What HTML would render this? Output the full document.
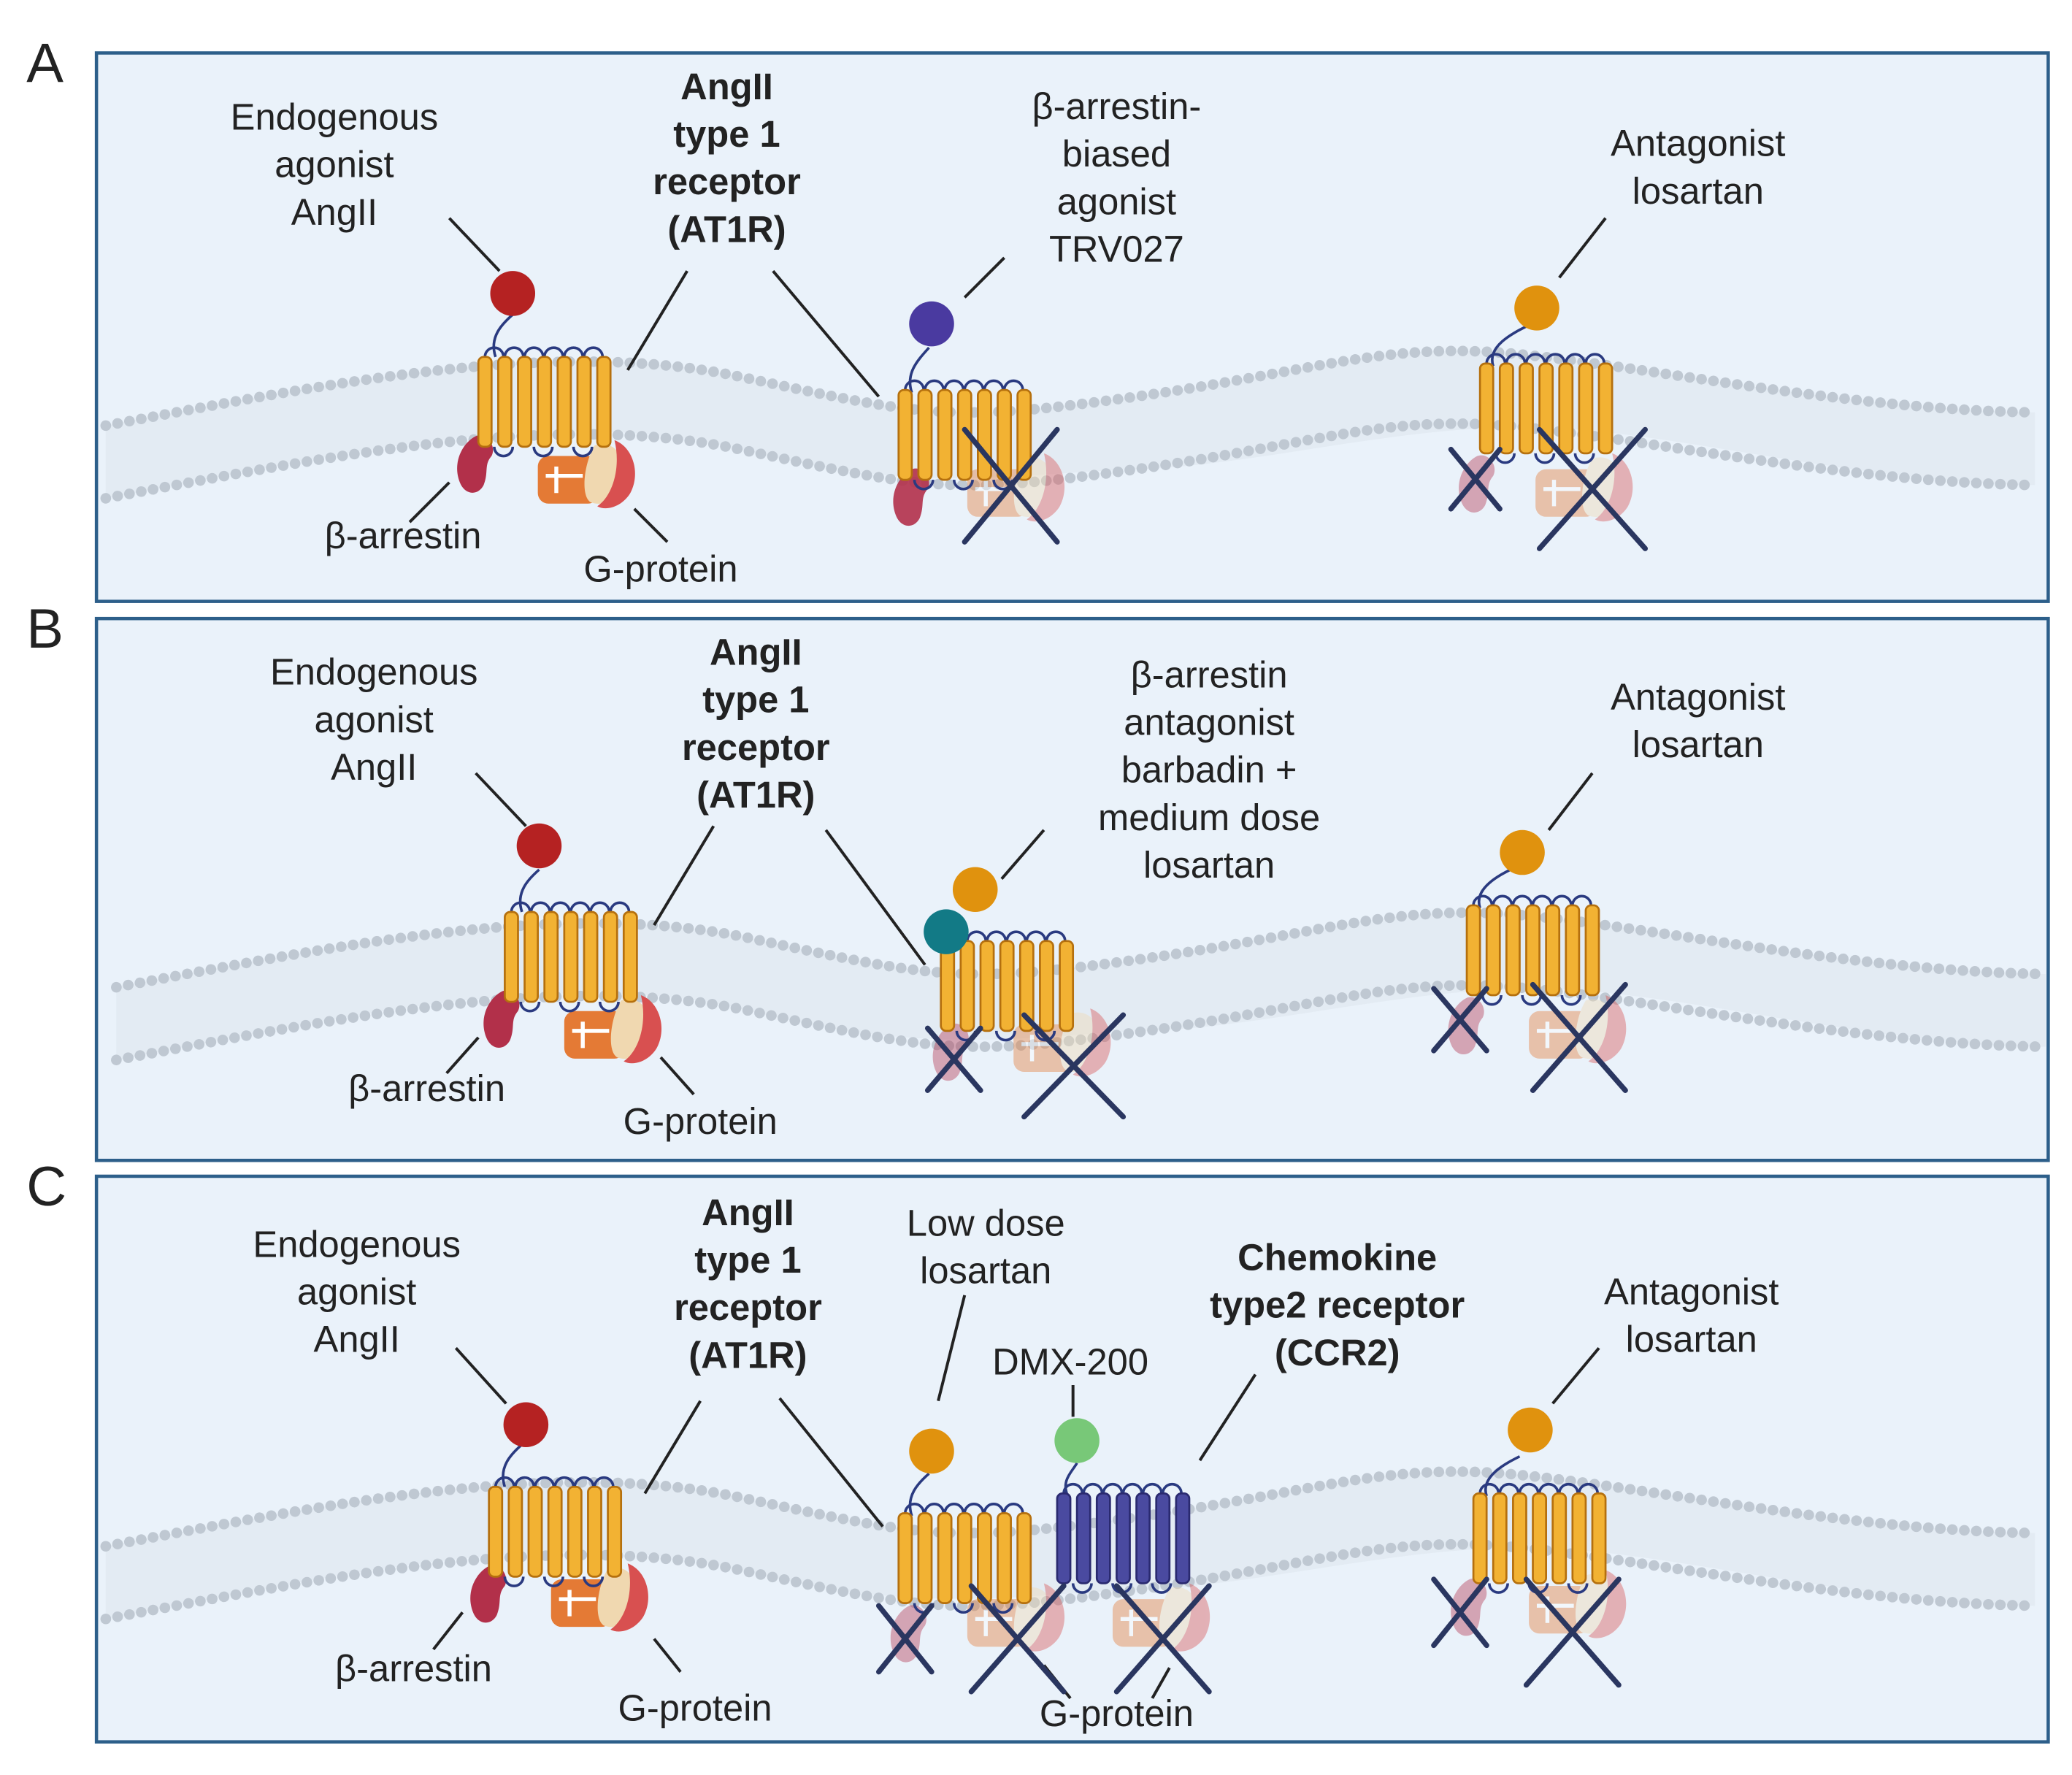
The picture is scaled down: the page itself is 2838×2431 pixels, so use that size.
<!DOCTYPE html>
<html><head><meta charset="utf-8">
<style>
html,body{margin:0;padding:0;background:#fff;}
svg{display:block;}
text{font-family:"Liberation Sans",sans-serif;font-size:28px;fill:#222;text-anchor:middle;}
.b{font-weight:bold;}
.big{font-size:42px;text-anchor:start;}
</style></head><body>
<svg width="2838" height="2431" viewBox="0 0 1568 1343" xmlns="http://www.w3.org/2000/svg">
<defs>
<g id="helices">
  <path d="M5,0 a7,7 0 0 1 14,0 M20,0 a7,7 0 0 1 14,0 M35,0 a7,7 0 0 1 14,0 M50,0 a7,7 0 0 1 14,0 M65,0 a7,7 0 0 1 14,0 M80,0 a7,7 0 0 1 14,0" fill="none" stroke="#2a3a80" stroke-width="2"/>
  <path d="M12,68 a7,7 0 0 0 14,0 M42,68 a7,7 0 0 0 14,0 M72,68 a7,7 0 0 0 14,0" fill="none" stroke="#2a3a80" stroke-width="2"/>
  <g stroke-width="1.5">
    <rect x="0" y="0" width="10" height="68" rx="4"/>
    <rect x="15" y="0" width="10" height="68" rx="4"/>
    <rect x="30" y="0" width="10" height="68" rx="4"/>
    <rect x="45" y="0" width="10" height="68" rx="4"/>
    <rect x="60" y="0" width="10" height="68" rx="4"/>
    <rect x="75" y="0" width="10" height="68" rx="4"/>
    <rect x="90" y="0" width="10" height="68" rx="4"/>
  </g>
</g>
<g id="rec"><g fill="#f2b233" stroke="#b5700e"><use href="#helices"/></g></g>
<g id="recb"><g fill="#4a4aa0" stroke="#2a2a70"><use href="#helices"/></g></g>
<g id="arr"><path d="M0,0 c-10,5 -18,20 -12,35 c4,10 14,10 18,2 c4,-10 0,-15 6,-22 c4,-8 -4,-18 -12,-15z" fill="#b2304a"/></g>
<g id="gp">
  <path d="M0,0 h30 a8,8 0 0 1 8,8 v20 a8,8 0 0 1 -8,8 h-30 a8,8 0 0 1 -8,-8 v-20 a8,8 0 0 1 8,-8z" fill="#e47a35"/>
  <path d="M-2,15 h28 M6,8 v20" stroke="#fff" stroke-width="3" fill="none"/>
  <path d="M35,-8 c15,-5 25,10 22,25 c-3,15 -15,22 -25,18 c-8,-5 -5,-30 3,-43z" fill="#f0d8b0"/>
  <path d="M50,-12 c14,5 20,25 12,40 c-6,10 -18,14 -25,10 c12,-8 18,-30 13,-50z" fill="#d85050"/>
</g>
<g id="gpf" opacity="0.4"><use href="#gp"/></g>
<g id="arrf" opacity="0.4"><use href="#arr"/></g>
</defs>

<rect x="73" y="40" width="1477" height="415" fill="#eaf2fa" stroke="#2d5f8a" stroke-width="2.5"/>
<rect x="73" y="468" width="1477" height="410" fill="#eaf2fa" stroke="#2d5f8a" stroke-width="2.5"/>
<rect x="73" y="890" width="1477" height="428" fill="#eaf2fa" stroke="#2d5f8a" stroke-width="2.5"/>
<text class="big" x="20" y="62">A</text>
<text class="big" x="20" y="490">B</text>
<text class="big" x="20" y="912">C</text>

<g id="mem">
<path d="M80,322 C250,290 420,255 560,285 S720,320 860,300 S1050,258 1150,268 S1400,310 1540,312 L1540,367 C1400,365 1250,322 1150,323 S950,352 860,355 S700,375 560,340 S250,345 80,377Z" fill="#e3ebf3"/>
<path d="M80,322 C250,290 420,255 560,285 S720,320 860,300 S1050,258 1150,268 S1400,310 1540,312" fill="none" stroke="#bfc8d2" stroke-width="8" stroke-dasharray="0.1 9" stroke-linecap="round"/>
<path d="M80,377 C250,345 420,310 560,340 S720,375 860,355 S1050,313 1150,323 S1400,365 1540,367" fill="none" stroke="#bfc8d2" stroke-width="8" stroke-dasharray="0.1 9" stroke-linecap="round"/>
</g>
<use href="#mem" transform="translate(8,425)"/>
<use href="#mem" transform="translate(0,848)"/>

<g stroke="#222" stroke-width="2.2" fill="none">
<path d="M340,165 L378,205 M520,205 L475,280 M585,205 L665,300 M760,195 L730,225 M1215,165 L1180,210 M340,365 L310,395 M480,385 L505,410"/>
<path d="M360,585 L398,625 M540,625 L495,700 M625,628 L700,730 M790,628 L758,665 M1205,585 L1172,628 M362,785 L338,812 M500,800 L525,828"/>
<path d="M345,1020 L383,1062 M530,1060 L488,1130 M590,1058 L668,1155 M730,980 L710,1060 M812,1048 L812,1072 M950,1040 L908,1105 M1210,1020 L1175,1062 M350,1220 L328,1248 M495,1240 L515,1265 M790,1260 L810,1285 M885,1262 L872,1285"/>
</g>

<use href="#arr" x="360" y="330"/>
<use href="#gp" x="415" y="345"/>
<path d="M375,270 c-5,-15 5,-25 13,-32" stroke="#2a3a80" stroke-width="2" fill="none"/>
<use href="#rec" x="362" y="270"/>
<circle cx="388" cy="222" r="17" fill="#b52222"/>

<use href="#arr" x="690" y="355" opacity="0.9"/>
<use href="#gpf" x="740" y="355"/>
<path d="M690,297 c-5,-15 5,-25 13,-34" stroke="#2a3a80" stroke-width="2" fill="none"/>
<use href="#rec" x="680" y="295"/>
<circle cx="705" cy="245" r="17" fill="#4a3aa0"/>

<use href="#arrf" x="1118" y="345"/>
<use href="#gpf" x="1170" y="355"/>
<path d="M1130,277 c-5,-15 15,-25 25,-30" stroke="#2a3a80" stroke-width="2" fill="none"/>
<use href="#rec" x="1120" y="275"/>
<circle cx="1163" cy="233" r="17" fill="#e0920e"/>

<use href="#arr" x="380" y="750"/>
<use href="#gp" x="435" y="765"/>
<path d="M395,690 c-5,-15 5,-25 13,-32" stroke="#2a3a80" stroke-width="2" fill="none"/>
<use href="#rec" x="382" y="690"/>
<circle cx="408" cy="640" r="17" fill="#b52222"/>

<use href="#arrf" x="720" y="775"/>
<use href="#gpf" x="775" y="775"/>
<use href="#rec" x="712" y="712"/>
<circle cx="738" cy="673" r="17" fill="#e0920e"/>
<circle cx="716" cy="705" r="17" fill="#127a86"/>

<use href="#arrf" x="1110" y="755"/>
<use href="#gpf" x="1165" y="765"/>
<path d="M1120,687 c-5,-15 15,-25 25,-30" stroke="#2a3a80" stroke-width="2" fill="none"/>
<use href="#rec" x="1110" y="685"/>
<circle cx="1152" cy="645" r="17" fill="#e0920e"/>

<use href="#arr" x="370" y="1185"/>
<use href="#gp" x="425" y="1195"/>
<path d="M382,1125 c-5,-15 5,-25 13,-32" stroke="#2a3a80" stroke-width="2" fill="none"/>
<use href="#rec" x="370" y="1125"/>
<circle cx="398" cy="1078" r="17" fill="#b52222"/>

<use href="#arrf" x="688" y="1215"/>
<use href="#gpf" x="740" y="1210"/>
<use href="#gpf" x="850" y="1210"/>
<path d="M690,1147 c-5,-15 5,-25 13,-32" stroke="#2a3a80" stroke-width="2" fill="none"/>
<use href="#rec" x="680" y="1145"/>
<circle cx="705" cy="1098" r="17" fill="#e0920e"/>
<path d="M808,1132 c-5,-12 3,-18 7,-25" stroke="#2a3a80" stroke-width="2" fill="none"/>
<use href="#recb" x="800" y="1130"/>
<circle cx="815" cy="1090" r="17" fill="#78c878"/>

<use href="#arrf" x="1112" y="1195"/>
<use href="#gpf" x="1165" y="1200"/>
<path d="M1125,1132 c-5,-15 15,-25 25,-30" stroke="#2a3a80" stroke-width="2" fill="none"/>
<use href="#rec" x="1115" y="1130"/>
<circle cx="1158" cy="1082" r="17" fill="#e0920e"/>

<g stroke="#2a3660" stroke-width="4" fill="none" stroke-linecap="round">
<path d="M730,325 L800,410 M800,325 L730,410"/>
<path d="M1098,340 L1135,385 M1135,340 L1098,385"/>
<path d="M1165,325 L1245,415 M1245,325 L1165,415"/>
<path d="M702,778 L742,825 M742,778 L702,825"/>
<path d="M775,768 L850,845 M850,768 L775,845"/>
<path d="M1085,748 L1125,795 M1125,748 L1085,795"/>
<path d="M1160,745 L1230,825 M1230,745 L1160,825"/>
<path d="M665,1215 L705,1265 M705,1215 L665,1265"/>
<path d="M735,1200 L805,1280 M805,1200 L735,1280"/>
<path d="M845,1200 L915,1280 M915,1200 L845,1280"/>
<path d="M1085,1195 L1125,1245 M1125,1195 L1085,1245"/>
<path d="M1155,1195 L1225,1275 M1225,1195 L1155,1275"/>
</g>

<text x="253" y="98">Endogenous</text><text x="253" y="134">agonist</text><text x="253" y="170">AngII</text>
<text class="b" x="550" y="75">AngII</text><text class="b" x="550" y="111">type 1</text><text class="b" x="550" y="147">receptor</text><text class="b" x="550" y="183">(AT1R)</text>
<text x="845" y="90">β-arrestin-</text><text x="845" y="126">biased</text><text x="845" y="162">agonist</text><text x="845" y="198">TRV027</text>
<text x="1285" y="118">Antagonist</text><text x="1285" y="154">losartan</text>
<text x="305" y="415">β-arrestin</text>
<text x="500" y="440">G-protein</text>

<text x="283" y="518">Endogenous</text><text x="283" y="554">agonist</text><text x="283" y="590">AngII</text>
<text class="b" x="572" y="503">AngII</text><text class="b" x="572" y="539">type 1</text><text class="b" x="572" y="575">receptor</text><text class="b" x="572" y="611">(AT1R)</text>
<text x="915" y="520">β-arrestin</text><text x="915" y="556">antagonist</text><text x="915" y="592">barbadin +</text><text x="915" y="628">medium dose</text><text x="915" y="664">losartan</text>
<text x="1285" y="537">Antagonist</text><text x="1285" y="573">losartan</text>
<text x="323" y="833">β-arrestin</text>
<text x="530" y="858">G-protein</text>

<text x="270" y="951">Endogenous</text><text x="270" y="987">agonist</text><text x="270" y="1023">AngII</text>
<text class="b" x="566" y="927">AngII</text><text class="b" x="566" y="963">type 1</text><text class="b" x="566" y="999">receptor</text><text class="b" x="566" y="1035">(AT1R)</text>
<text x="746" y="935">Low dose</text><text x="746" y="971">losartan</text>
<text x="810" y="1040">DMX-200</text>
<text class="b" x="1012" y="961">Chemokine</text><text class="b" x="1012" y="997">type2 receptor</text><text class="b" x="1012" y="1033">(CCR2)</text>
<text x="1280" y="987">Antagonist</text><text x="1280" y="1023">losartan</text>
<text x="313" y="1272">β-arrestin</text>
<text x="526" y="1302">G-protein</text>
<text x="845" y="1306">G-protein</text>
</svg>
</body></html>
